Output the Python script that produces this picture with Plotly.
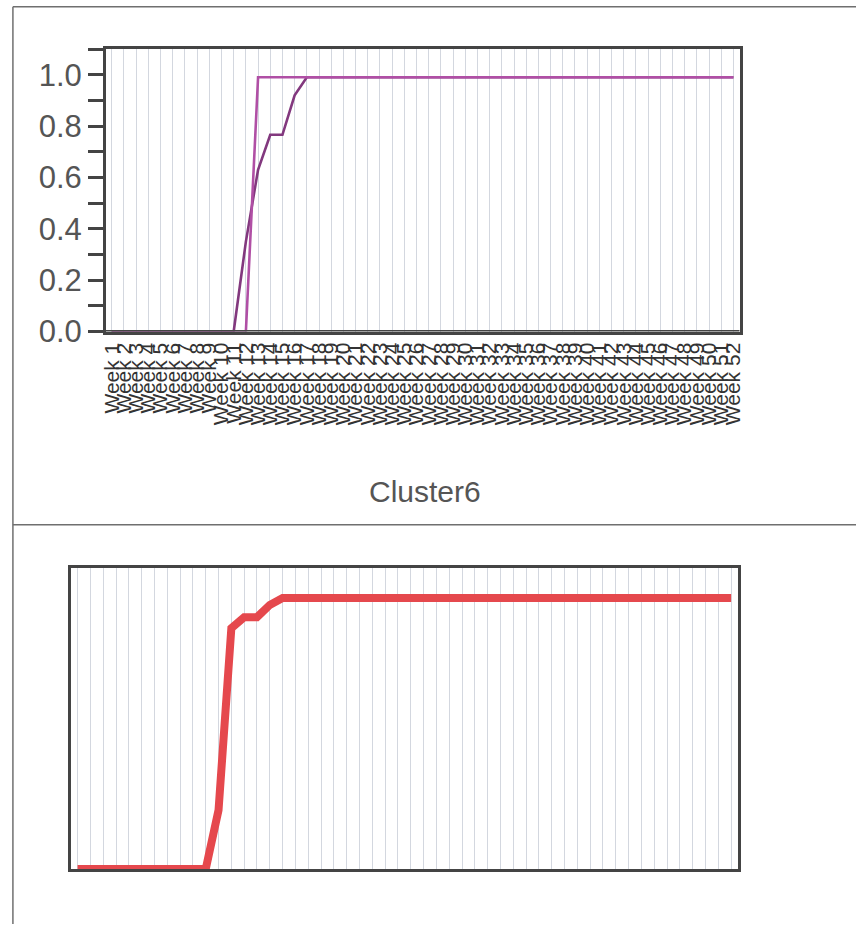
import plotly.graph_objects as go

W, H = 861, 942

weeks = ["Week %d" % i for i in range(1, 53)]

# Cluster lines (top chart)
series_a = [0, 0, 0, 0, 0, 0, 0, 0, 0, 0, 0, 0.35, 0.63, 0.766, 0.766, 0.92, 0.99] + [0.99] * 35
series_b = [0, 0, 0, 0, 0, 0, 0, 0, 0, 0, 0, 0, 0.99, 0.99, 0.99, 0.99, 0.99] + [0.99] * 35
# Cluster6 summary line (bottom chart)
series_avg = [0, 0, 0, 0, 0, 0, 0, 0, 0, 0, 0, 0.215, 0.88, 0.92, 0.92, 0.965, 0.99] + [0.99] * 35

y_ticks = [0.0, 0.2, 0.4, 0.6, 0.8, 1.0]
y_labels = ["0.0", "0.2", "0.4", "0.6", "0.8", "1.0"]

fig = go.Figure()
fig.add_trace(go.Scatter(x=weeks, y=series_a, mode="lines",
                         line=dict(color="#82387e", width=2.6),
                         xaxis="x", yaxis="y", showlegend=False))
fig.add_trace(go.Scatter(x=weeks, y=series_b, mode="lines",
                         line=dict(color="#b04fa5", width=2.6),
                         xaxis="x", yaxis="y", showlegend=False))
fig.add_trace(go.Scatter(x=weeks, y=series_avg, mode="lines",
                         line=dict(color="#e5484d", width=8),
                         xaxis="x2", yaxis="y2", showlegend=False))

def px_x(v):
    return v / W

def px_y(v):
    return 1 - v / H

grid_col = "#d3d7df"
axis_col = "#444444"

fig.update_layout(
    width=W, height=H,
    margin=dict(l=0, r=0, t=0, b=0),
    paper_bgcolor="white", plot_bgcolor="white",
    font=dict(family="Liberation Sans, Arial, sans-serif", color="#444"),
    xaxis=dict(domain=[px_x(101), px_x(743)], anchor="y", type="category",
               range=[-0.5, 51.5], tickmode="linear", dtick=1,
               tickangle=-90, tickfont=dict(size=21, color="#333"),
               showgrid=True, gridcolor=grid_col, gridwidth=1,
               showline=True, linecolor=axis_col, linewidth=2.5, mirror=True,
               ticks="", zeroline=False),
    yaxis=dict(domain=[px_y(338), px_y(50)], anchor="x",
               range=[0, 1.1], tickmode="array", tickvals=y_ticks, ticktext=y_labels,
               tickfont=dict(size=31, color="#555"),
               ticks="outside", ticklen=15, tickwidth=2.5, tickcolor=axis_col,
               minor=dict(tickmode="array", tickvals=[0.1, 0.3, 0.5, 0.7, 0.9, 1.1],
                          ticks="outside", ticklen=15, tickwidth=2.5, tickcolor=axis_col,
                          showgrid=False),
               showgrid=False, zeroline=False,
               showline=True, linecolor=axis_col, linewidth=2.5, mirror=True),
    xaxis2=dict(domain=[px_x(66), px_x(741)], anchor="y2", type="category",
                range=[-0.5, 51.5], tickmode="linear", dtick=1,
                showticklabels=False, ticks="",
                showgrid=True, gridcolor=grid_col, gridwidth=1,
                showline=True, linecolor=axis_col, linewidth=2.5, mirror=True,
                zeroline=False),
    yaxis2=dict(domain=[px_y(886), px_y(579)], anchor="x2",
                range=[0, 1.1], showticklabels=False, ticks="",
                showgrid=False, zeroline=False,
                showline=True, linecolor=axis_col, linewidth=2.5, mirror=True),
)

# the top chart's x-axis line sits over the zero-valued stretch of the lines
fig.add_shape(type="line", xref="x domain", yref="y", x0=0, x1=1, y0=0, y1=0,
              line=dict(color=axis_col, width=3.2), layer="above")

border = dict(color="#6f6f6f", width=1.5)
fig.add_shape(type="line", xref="paper", yref="paper",
              x0=px_x(7), x1=1, y0=px_y(7), y1=px_y(7), line=border)
fig.add_shape(type="line", xref="paper", yref="paper",
              x0=px_x(7), x1=px_x(7), y0=px_y(7), y1=0, line=border)
fig.add_shape(type="line", xref="paper", yref="paper",
              x0=px_x(7), x1=1, y0=px_y(535), y1=px_y(535), line=border)

fig.add_annotation(text="Cluster6", xref="paper", yref="paper",
                   x=px_x(424), y=px_y(501), showarrow=False,
                   xanchor="center", yanchor="middle",
                   font=dict(size=30, color="#555",
                             family="Liberation Sans, Arial, sans-serif"))

fig.write_html("out.html")
